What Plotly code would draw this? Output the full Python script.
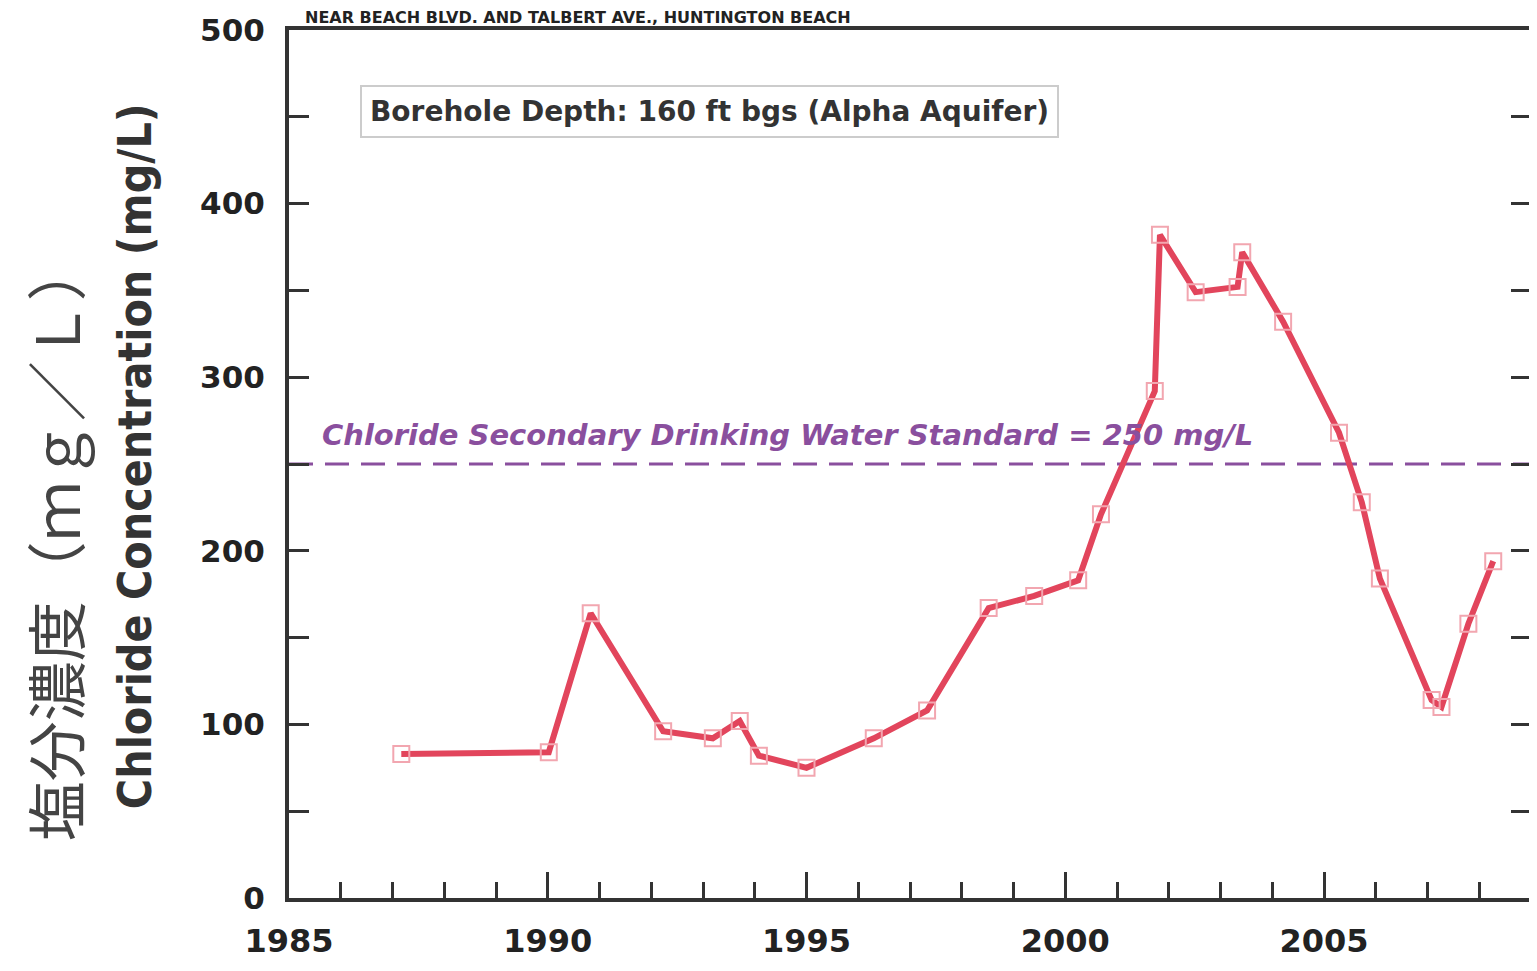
import plotly.graph_objects as go

# ---- data ----
years = [1987.17, 1990.02, 1990.83, 1992.23, 1993.19, 1993.71, 1994.08, 1995.0,
         1996.3, 1997.33, 1998.52, 1999.40, 2000.25, 2000.69, 2001.73, 2001.83,
         2002.52, 2003.33, 2003.42, 2004.21, 2005.29, 2005.73, 2006.08, 2007.08,
         2007.27, 2007.79, 2008.27]
chloride = [83, 84, 164, 96, 92, 102, 82, 75,
            92, 108, 167, 174, 183, 221, 292, 382,
            349, 352, 372, 332, 268, 228, 184, 114,
            110, 158, 194]
standard_value = 250
standard_x = [1985, 2009]
x_major_ticks = [1985, 1990, 1995, 2000, 2005]
y_major_ticks = [0, 100, 200, 300, 400, 500]

fig = go.Figure()

fig.add_trace(go.Scatter(
    x=standard_x, y=[standard_value] * len(standard_x), mode="lines",
    line=dict(color="#8a4f9e", width=3, dash="24px,12px"),
    showlegend=False, hoverinfo="skip"))

fig.add_trace(go.Scatter(
    x=years, y=chloride, mode="lines+markers",
    line=dict(color="#e2455c", width=6),
    marker=dict(symbol="square-open", size=16, color="#f2a6b0",
                line=dict(width=2, color="#f2a6b0")),
    showlegend=False))

fig.update_layout(
    width=1529, height=963,
    margin=dict(l=281, r=2, t=22, b=73),
    paper_bgcolor="white", plot_bgcolor="white",
    xaxis=dict(range=[1985, 2009], tickvals=x_major_ticks,
               ticktext=[str(v) for v in x_major_ticks],
               ticks="inside", ticklen=26, tickwidth=3, tickcolor="#333",
               minor=dict(dtick=1, ticks="inside", ticklen=16, tickwidth=3, tickcolor="#333"),
               showline=True, linewidth=4, linecolor="#333", mirror=True,
               showgrid=False, zeroline=False,
               tickfont=dict(family="DejaVu Sans", size=32, color="#222", weight="bold"),
               ticklabelstandoff=12),
    yaxis=dict(range=[0, 500], tickvals=y_major_ticks,
               ticks="inside", ticklen=20, tickwidth=3, tickcolor="#333",
               minor=dict(dtick=50, ticks="inside", ticklen=20, tickwidth=3, tickcolor="#333"),
               showline=True, linewidth=4, linecolor="#333", mirror="ticks",
               showgrid=False, zeroline=False,
               tickfont=dict(family="DejaVu Sans", size=31, color="#222", weight="bold"),
               ticklabelstandoff=14),
)

# y-axis titles
fig.add_annotation(xref="paper", yref="paper", x=-0.124, y=0.509,
                   xanchor="center", yanchor="middle",
                   text="<b>Chloride Concentration (mg/L)</b>", textangle=-90,
                   showarrow=False,
                   font=dict(family="DejaVu Sans Condensed, DejaVu Sans, sans-serif",
                             size=46, color="#333"))
fig.add_annotation(xref="paper", yref="paper", x=-0.19, y=0.411,
                   xanchor="center", yanchor="middle",
                   text="塩分濃度（ｍｇ／Ｌ）", textangle=-90, showarrow=False,
                   font=dict(family="Noto Sans CJK JP", size=60, color="#444"))

# title at top (mostly cropped in the reference)
fig.add_annotation(xref="paper", yref="paper", x=0.012, y=1.0,
                   xanchor="left", yanchor="bottom", yshift=2,
                   text="<b>NEAR BEACH BLVD. AND TALBERT AVE., HUNTINGTON BEACH</b>",
                   showarrow=False, borderpad=0,
                   font=dict(family="DejaVu Sans", size=16, color="#222"))

# borehole box
fig.add_annotation(x=1993.13, y=453, xref="x", yref="y",
                   text="<b>Borehole Depth: 160 ft bgs (Alpha Aquifer)</b>",
                   showarrow=False, bordercolor="#cccccc", borderwidth=2,
                   borderpad=8, bgcolor="white",
                   font=dict(family="DejaVu Sans", size=28, color="#333"))

# standard label
fig.add_annotation(x=1985.6, y=256, xref="x", yref="y", xanchor="left", yanchor="bottom",
                   text="<b><i>Chloride Secondary Drinking Water Standard = 250 mg/L</i></b>",
                   showarrow=False,
                   font=dict(family="DejaVu Sans", size=29, color="#8a4f9e"))

fig.write_html("out.html")
